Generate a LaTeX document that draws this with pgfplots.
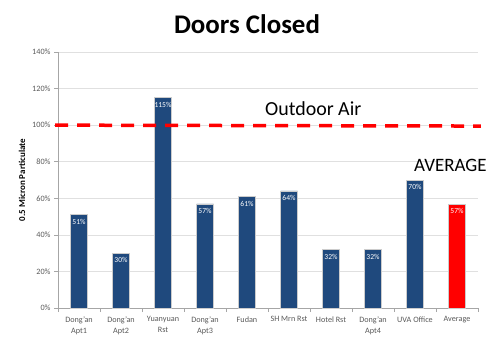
\documentclass[border=0pt]{standalone}
\usepackage{pgfplots}
\pgfplotsset{compat=1.18}
\usepackage{fontspec}
\setmainfont{Carlito}
\definecolor{barblue}{HTML}{1F497D}
\definecolor{ticktext}{HTML}{595959}
\begin{document}
\begin{tikzpicture}[x=1bp,y=1bp]
\path[use as bounding box] (0,0) rectangle (500,356);
\begin{axis}[
  at={(58bp,48bp)}, anchor=south west,
  scale only axis, width=420bp, height=256bp,
  ymin=0, ymax=140, xmin=-0.5, xmax=9.5,
  ytick={0,20,...,140},
  yticklabel={\pgfmathprintnumber{\tick}\%},
  /pgf/number format/assume math mode=true,
  ymajorgrids, grid style={draw=black!12, line width=0.6pt},
  axis x line*=bottom, axis y line*=left,
  axis line style={draw=black!35, line width=0.6pt},
  x axis line style={-}, y axis line style={-},
  xtick={0,...,9}, major x tick style={draw=none},
  minor xtick={-0.5,0.5,...,9.5},
  minor x tick style={draw=black!35, line width=0.6pt},
  minor tick length=4bp,
  major y tick style={draw=black!35, line width=0.6pt},
  major tick length=4bp,
  tick align=outside,
  xticklabels={Dong'an\\Apt1, Dong'an\\Apt2, Yuanyuan\\Rst, Dong'an\\Apt3, Fudan, SH Mrn Rst, Hotel Rst, Dong'an\\Apt4, UVA Office, Average},
  x tick label style={align=center, font=\fontsize{8.2}{11}\selectfont, text=ticktext, anchor=north, yshift=-1bp},
  y tick label style={font=\fontsize{8.2}{9}\selectfont, text=ticktext},
  ybar, bar width=17bp,
  nodes near coords={\pgfmathprintnumber{\pgfplotspointmeta}\%},
  every node near coord/.append style={anchor=north, font=\fontsize{7.6}{8}\selectfont, text=white, yshift=-1bp},
  clip=false,
]
\addplot[bar shift=0pt, fill=barblue, draw=black!20, line width=0.5pt] coordinates {
 (0,51) (1,30) (2,115) (3,57) (4,61) (5,64) (6,32) (7,32) (8,70)};
\addplot[bar shift=0pt, fill=red, draw=black!20, line width=0.5pt] coordinates {(9,57)};
\addplot[sharp plot, red, line width=3.5bp, dash pattern=on 13bp off 9bp, nodes near coords={}] coordinates {(-0.57,100) (9.57,99.5)};
\end{axis}
\node[anchor=base, font=\fontsize{27}{30}\selectfont\bfseries] at (247,323) {Doors Closed};
\node[anchor=base west, font=\fontsize{20}{22}\selectfont, inner sep=0pt] at (265,241) {Outdoor Air};
\node[anchor=base west, font=\fontsize{19}{22}\selectfont, inner sep=0pt] at (414,185) {AVERAGE};
\node[rotate=90, font=\fontsize{9}{10}\selectfont\bfseries] at (22,176) {0.5 Micron Particulate};
\end{tikzpicture}
\end{document}
